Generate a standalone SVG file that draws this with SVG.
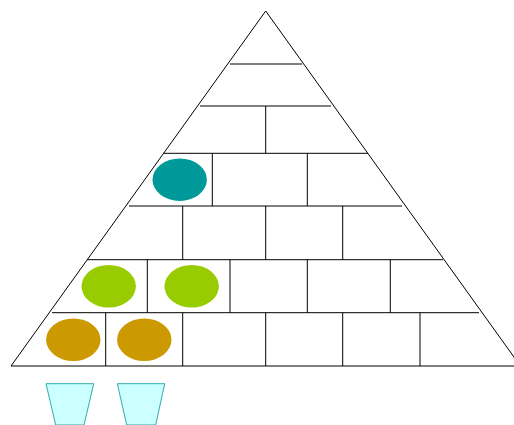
<svg xmlns="http://www.w3.org/2000/svg" width="514" height="425" viewBox="0 0 514 425">
<style>
.ln{stroke:#000;stroke-width:1;fill:none}
.teal{fill:#009999}
.green{fill:#99CC00}
.gold{fill:#CC9900}
.cup{fill:#CCFFFF;stroke:#33AAAA;stroke-width:1}
</style>
<rect width="514" height="425" fill="#fff"/>
<g id="pyramid">
<polygon class="ln" points="265.7,11 11,366 520.4,366"/>
</g>
<g id="connectors" class="ln">
<line x1="230" y1="64" x2="302" y2="64"/>
<line x1="200" y1="106" x2="331" y2="106"/>
<line x1="163" y1="153.3" x2="368" y2="153.3"/>
<line x1="129" y1="206" x2="402" y2="206"/>
<line x1="87" y1="259.7" x2="443" y2="259.7"/>
<line x1="52" y1="312.7" x2="479" y2="312.7"/>
<line x1="265.7" y1="106" x2="265.7" y2="153.3"/>
<line x1="212.3" y1="153.3" x2="212.3" y2="206"/>
<line x1="307.3" y1="153.3" x2="307.3" y2="206"/>
<line x1="182.7" y1="206" x2="182.7" y2="259.7"/>
<line x1="265.7" y1="206" x2="265.7" y2="259.7"/>
<line x1="342.7" y1="206" x2="342.7" y2="259.7"/>
<line x1="147.3" y1="259.7" x2="147.3" y2="312.7"/>
<line x1="230" y1="259.7" x2="230" y2="312.7"/>
<line x1="307.3" y1="259.7" x2="307.3" y2="312.7"/>
<line x1="390.3" y1="259.7" x2="390.3" y2="312.7"/>
<line x1="105.7" y1="312.7" x2="105.7" y2="366"/>
<line x1="182.7" y1="312.7" x2="182.7" y2="366"/>
<line x1="265.7" y1="312.7" x2="265.7" y2="366"/>
<line x1="342.7" y1="312.7" x2="342.7" y2="366"/>
<line x1="420" y1="312.7" x2="420" y2="366"/>
</g>
<g id="teal-ball"><ellipse class="teal" cx="179.7" cy="179.7" rx="27.2" ry="21.2"/></g>
<g id="green-ball-1"><ellipse class="green" cx="108.7" cy="286.3" rx="27.2" ry="21.3"/></g>
<g id="green-ball-2"><ellipse class="green" cx="191.7" cy="286.3" rx="27.2" ry="21.3"/></g>
<g id="gold-ball-1"><ellipse class="gold" cx="73.3" cy="339.7" rx="27.2" ry="21.3"/></g>
<g id="gold-ball-2"><ellipse class="gold" cx="144.3" cy="339.7" rx="27.2" ry="21.3"/></g>
<g id="cup-1"><polygon class="cup" points="46,383.7 93.7,383.7 84,425 55.7,425"/></g>
<g id="cup-2"><polygon class="cup" points="117.3,383.7 164.7,383.7 155.7,425 126.7,425"/></g>
</svg>
